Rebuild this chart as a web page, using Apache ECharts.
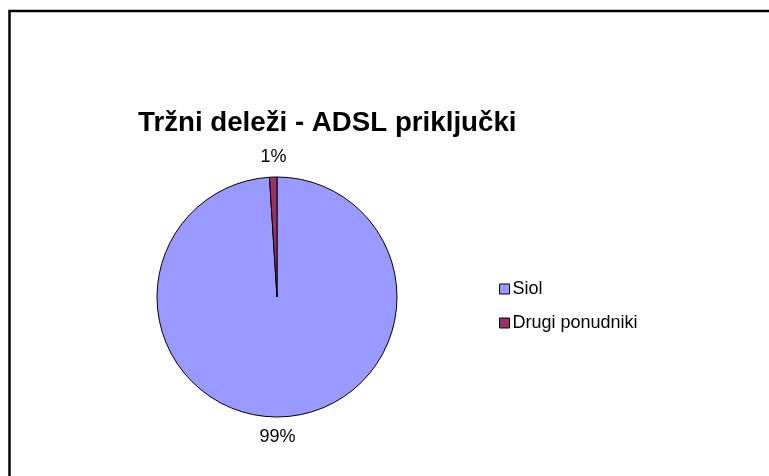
<!DOCTYPE html>
<html>
<head>
<meta charset="utf-8">
<script src="https://cdn.jsdelivr.net/npm/echarts@6/dist/echarts.min.js"></script>
<style>
  html, body { margin: 0; padding: 0; background: #fff; }
  #chart { width: 769px; height: 476px; }
</style>
</head>
<body>
<div id="chart"></div>
<script>
// podatki
var providers = ['Siol', 'Drugi ponudniki'];
var shares = [99, 1];
var colors = ['#9999FF', '#993366'];

var chart = echarts.init(document.getElementById('chart'));
var pieCenter = [277, 297];

var option = {
  backgroundColor: '#fff',
  animation: false,
  textStyle: { fontFamily: 'Liberation Sans, Arial, sans-serif', color: '#000' },
  graphic: [{
    type: 'rect',
    shape: { x: 9.5, y: 11, width: 800, height: 500 },
    style: { fill: 'none', stroke: '#000', lineWidth: 2.5 },
    silent: true
  }],
  title: {
    text: 'Tržni deleži - ADSL priključki',
    left: 133,
    top: 104,
    textStyle: { fontSize: 27.7, fontWeight: 'bold', color: '#000', fontFamily: 'Liberation Sans, Arial, sans-serif' }
  },
  legend: {
    orient: 'vertical',
    left: 494,
    top: 275,
    itemWidth: 10,
    itemHeight: 10,
    itemGap: 16,
    icon: 'rect',
    itemStyle: { borderColor: '#000', borderWidth: 1 },
    textStyle: { fontSize: 18, color: '#000', padding: [0, 0, 0, -2] },
    data: providers
  },
  series: [{
    type: 'pie',
    center: pieCenter,
    radius: 120,
    startAngle: 90,
    clockwise: true,
    avoidLabelOverlap: false,
    itemStyle: { borderColor: '#000', borderWidth: 1 },
    label: {
      show: true,
      position: 'outside',
      formatter: '{c}%',
      fontSize: 18,
      color: '#000'
    },
    labelLine: { show: false, length: 20, length2: 0 },
    labelLayout: function (p) {
      // oznaka na sredini nad/pod izsekom
      var mid = p.labelRect.x + p.labelRect.width / 2;
      return { align: 'center', dx: mid > pieCenter[0] ? -9 : 6 };
    },
    data: providers.map(function (name, i) {
      return { name: name, value: shares[i], itemStyle: { color: colors[i] } };
    })
  }]
};

chart.setOption(option);
</script>
</body>
</html>
